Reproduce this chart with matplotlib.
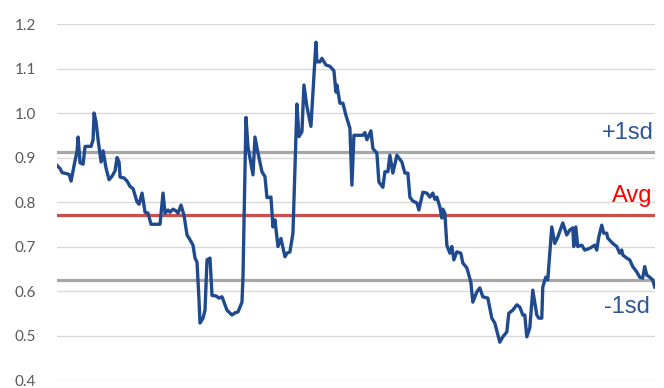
import matplotlib.pyplot as plt

# time index (irregular sampling) and ratio values
t = [0, 3, 5, 9, 12, 14, 17, 20, 21, 23, 26, 28, 31, 34, 36, 37, 39, 41, 44, 46,
     49, 52, 55, 58, 60, 62, 63, 67, 70, 73, 76, 80, 82, 85, 88, 91, 94, 103, 106, 108,
     111, 113, 116, 119, 121, 124, 127, 130, 133, 136, 138, 140, 142, 143, 146, 148, 150, 153, 155, 159,
     162, 165, 170, 175, 178, 181, 185, 186, 189, 191, 196, 198, 201, 205, 208, 210, 214, 216, 218, 221,
     224, 228, 230, 233, 236, 240, 242, 245, 247, 250, 254, 259, 260, 263, 265, 269, 273, 277, 279, 280,
     283, 286, 289, 293, 295, 297, 300, 306, 308, 310, 314, 316, 320, 322, 326, 328, 331, 333, 336, 340,
     345, 348, 351, 353, 356, 360, 362, 366, 370, 373, 376, 378, 380, 383, 385, 386, 388, 390, 393, 395,
     397, 400, 404, 406, 410, 414, 416, 420, 423, 426, 431, 435, 438, 443, 446, 450, 452, 456, 460, 463,
     466, 468, 470, 473, 476, 480, 482, 485, 486, 489, 491, 495, 498, 501, 506, 510, 513, 516, 517, 519,
     521, 525, 528, 533, 538, 540, 542, 545, 547, 550, 551, 556, 560, 563, 565, 566, 570, 573, 576, 580,
     583, 586, 588, 590, 593, 596, 598]
ratio = [0.882, 0.875, 0.866, 0.864, 0.862, 0.847, 0.882, 0.915, 0.946, 0.888, 0.885, 0.925, 0.925, 0.925, 0.94, 1.0, 0.98, 0.94, 0.89, 0.915,
         0.876, 0.85, 0.858, 0.87, 0.9, 0.89, 0.856, 0.854, 0.847, 0.835, 0.83, 0.80, 0.795, 0.82, 0.777, 0.775, 0.75, 0.75, 0.82, 0.775,
         0.782, 0.777, 0.784, 0.78, 0.775, 0.793, 0.77, 0.726, 0.715, 0.703, 0.674, 0.665, 0.58, 0.528, 0.539, 0.557, 0.67, 0.674, 0.59, 0.589,
         0.584, 0.587, 0.557, 0.546, 0.551, 0.553, 0.575, 0.631, 0.99, 0.924, 0.861, 0.946, 0.91, 0.868, 0.857, 0.81, 0.811, 0.744, 0.76, 0.70,
         0.718, 0.677, 0.685, 0.688, 0.73, 1.02, 0.947, 0.958, 1.063, 1.014, 0.97, 1.159, 1.115, 1.115, 1.123, 1.108, 1.105, 1.095, 1.047, 1.063,
         1.022, 1.022, 0.995, 0.966, 0.838, 0.95, 0.95, 0.95, 0.956, 0.94, 0.96, 0.92, 0.91, 0.845, 0.833, 0.868, 0.868, 0.905, 0.865, 0.905,
         0.89, 0.865, 0.865, 0.811, 0.802, 0.798, 0.782, 0.822, 0.82, 0.811, 0.82, 0.806, 0.811, 0.789, 0.764, 0.784, 0.775, 0.703, 0.685, 0.70,
         0.67, 0.688, 0.685, 0.663, 0.652, 0.62, 0.575, 0.598, 0.607, 0.587, 0.584, 0.539, 0.528, 0.485, 0.497, 0.508, 0.55, 0.557, 0.569, 0.564,
         0.546, 0.546, 0.497, 0.517, 0.602, 0.546, 0.539, 0.539, 0.609, 0.631, 0.625, 0.744, 0.707, 0.721, 0.753, 0.726, 0.737, 0.742, 0.70, 0.744,
         0.70, 0.703, 0.692, 0.696, 0.703, 0.692, 0.721, 0.748, 0.73, 0.73, 0.719, 0.707, 0.70, 0.685, 0.692, 0.681, 0.674, 0.67, 0.655, 0.643,
         0.631, 0.629, 0.655, 0.636, 0.631, 0.625, 0.609]

avg = 0.770
plus_sd = 0.913
minus_sd = 0.625
yticks = [0.4, 0.5, 0.6, 0.7, 0.8, 0.9, 1.0, 1.1, 1.2]

fig = plt.figure(figsize=(6.64, 3.88), dpi=100)
ax = fig.add_axes([0.086, 0.0206, 0.9, 0.9175])

for y in yticks:
    ax.axhline(y, color='#d9d9d9', lw=1.0, zorder=0)

ax.axhline(plus_sd, color='#a6a6a6', lw=2.3, zorder=1)
ax.axhline(minus_sd, color='#a6a6a6', lw=2.3, zorder=1)
ax.axhline(avg, color='#c9504b', lw=2.3, zorder=1)

ax.plot(t, ratio, color='#1f4b8e', lw=2.4, zorder=3)

ax.set_xlim(0, 598)
ax.set_ylim(0.4, 1.2)
ax.set_yticks(yticks)
ax.set_yticklabels(['%.1f' % v for v in yticks], family='Lato')
ax.set_xticks([])
ax.tick_params(axis='y', length=0, pad=15, labelsize=11, labelcolor='#595959')
for s in ax.spines.values():
    s.set_visible(False)

ax.text(597, plus_sd + 0.042, '+1sd', color='#2f5597', fontsize=17,
        family='Liberation Sans', ha='right', va='center')
ax.text(596, avg + 0.043, 'Avg', color='#ff0000', fontsize=17,
        family='Liberation Sans', ha='right', va='center')
ax.text(593, minus_sd - 0.06, '-1sd', color='#2f5597', fontsize=17,
        family='Liberation Sans', ha='right', va='center')

fig.savefig('out.png', dpi=100)
